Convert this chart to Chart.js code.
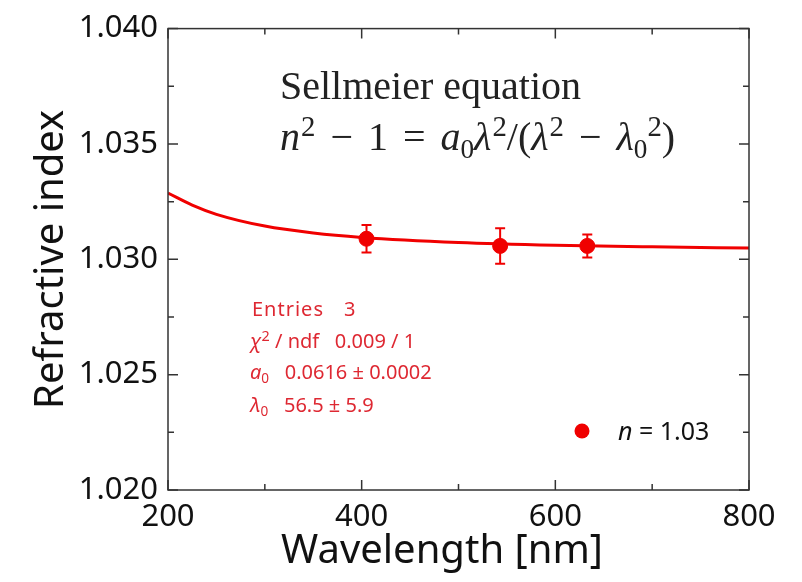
<!DOCTYPE html>
<html>
<head>
<meta charset="utf-8">
<script src="https://cdn.jsdelivr.net/npm/chart.js@4.4.1/dist/chart.umd.min.js"></script>
<style>
    body { margin: 0; background: #fff; }
    canvas { display: block; }
</style>
</head>
<body>
<canvas id="indexChart" width="802" height="582"></canvas>
<script>
const wavelengths = [405, 543, 633];
const indexValues = [1.03089, 1.03058, 1.03058];
const indexErrors = [0.0006, 0.00077, 0.0005];

const fitWavelengths = [200, 225, 250, 300, 350, 400, 500, 600, 700, 800];
const fitValues = [1.03287, 1.03235, 1.03195, 1.03144, 1.03114, 1.03095, 1.03073, 1.03061, 1.03054, 1.03049];

const xMajorTicks = [200, 400, 600, 800];
const xMinorTicks = [300, 500, 700];
const yMajorTicks = [1.020, 1.025, 1.030, 1.035, 1.040];
const yMinorTicks = [1.0225, 1.0275, 1.0325, 1.0375];

const red = 'rgb(240, 0, 0)';
const statRed = 'rgb(222, 40, 50)';
const axisColor = '#333';
const sansFont = '"Noto Sans", "Open Sans", sans-serif';
const serifFont = '"Liberation Serif", "DejaVu Serif", serif';

function drawRuns(ctx, x, y, runs, size, family, color) {
    ctx.fillStyle = color;
    ctx.textBaseline = 'alphabetic';
    ctx.textAlign = 'left';
    for (const run of runs) {
        let fontSize = size;
        let dy = 0;
        if (run.pos === 'sup') { fontSize = size * 0.72; dy = -size * 0.36; }
        if (run.pos === 'sub') { fontSize = size * 0.68; dy = size * 0.2; }
        ctx.font = (run.italic ? 'italic ' : '') + fontSize + 'px ' + family;
        ctx.fillText(run.t, x, y + dy);
        x += ctx.measureText(run.t).width + (run.gap || 0);
    }
    return x;
}

const frameAndNotes = {
    id: 'frameAndNotes',
    beforeDatasetsDraw(chart) {
        const ctx = chart.ctx;
        const xs = chart.scales.x;
        const ys = chart.scales.y;
        ctx.save();
        ctx.strokeStyle = red;
        ctx.lineWidth = 2;
        wavelengths.forEach((w, i) => {
            const px = xs.getPixelForValue(w);
            const top = ys.getPixelForValue(indexValues[i] + indexErrors[i]);
            const bottom = ys.getPixelForValue(indexValues[i] - indexErrors[i]);
            ctx.beginPath();
            ctx.moveTo(px, top);
            ctx.lineTo(px, bottom);
            ctx.moveTo(px - 5, top);
            ctx.lineTo(px + 5, top);
            ctx.moveTo(px - 5, bottom);
            ctx.lineTo(px + 5, bottom);
            ctx.stroke();
        });
        ctx.restore();
    },
    afterDraw(chart) {
        const ctx = chart.ctx;
        const area = chart.chartArea;
        const xs = chart.scales.x;
        const ys = chart.scales.y;
        ctx.save();

        // frame with inward ticks on all four sides
        ctx.strokeStyle = axisColor;
        ctx.lineWidth = 1.5;
        ctx.strokeRect(area.left, area.top, area.right - area.left, area.bottom - area.top);
        ctx.beginPath();
        const xTick = (v, len) => {
            const px = xs.getPixelForValue(v);
            ctx.moveTo(px, area.bottom);
            ctx.lineTo(px, area.bottom - len);
            ctx.moveTo(px, area.top);
            ctx.lineTo(px, area.top + len);
        };
        const yTick = (v, len) => {
            const py = ys.getPixelForValue(v);
            ctx.moveTo(area.left, py);
            ctx.lineTo(area.left + len, py);
            ctx.moveTo(area.right, py);
            ctx.lineTo(area.right - len, py);
        };
        xMajorTicks.forEach(v => xTick(v, 10));
        xMinorTicks.forEach(v => xTick(v, 6));
        yMajorTicks.forEach(v => yTick(v, 10));
        yMinorTicks.forEach(v => yTick(v, 6));
        ctx.stroke();

        // x axis title, set a little left of centre as in the original
        ctx.fillStyle = '#111';
        ctx.font = '40px ' + sansFont;
        ctx.textAlign = 'center';
        ctx.textBaseline = 'middle';
        ctx.fillText('Wavelength [nm]', 442, 552);

        // Sellmeier equation
        ctx.fillStyle = '#222';
        ctx.font = '40px ' + serifFont;
        ctx.textAlign = 'left';
        ctx.textBaseline = 'alphabetic';
        ctx.fillText('Sellmeier equation', 280, 99);
        const sp = { t: '', gap: 15 };
        drawRuns(ctx, 280, 150, [
            { t: 'n', italic: true, gap: 1 },
            { t: '2', pos: 'sup' },
            sp, { t: '\u2212' }, sp, { t: '1' }, sp, { t: '=' }, sp,
            { t: 'a', italic: true },
            { t: '0', pos: 'sub' },
            { t: '\u03bb', italic: true, gap: 1 },
            { t: '2', pos: 'sup' },
            { t: '/(' },
            { t: '\u03bb', italic: true, gap: 1 },
            { t: '2', pos: 'sup' },
            sp, { t: '\u2212' }, sp,
            { t: '\u03bb', italic: true },
            { t: '0', pos: 'sub' },
            { t: '2', pos: 'sup' },
            { t: ')' }
        ], 40, serifFont, '#222');

        // fit statistics
        const statSize = 20;
        ctx.letterSpacing = '1px';
        drawRuns(ctx, 252, 316, [{ t: 'Entries', gap: 20 }, { t: '3' }], statSize, sansFont, statRed);
        ctx.letterSpacing = '0px';
        drawRuns(ctx, 250, 348, [
            { t: '\u03c7', italic: true },
            { t: '2', pos: 'sup' },
            { t: ' / ndf   0.009 / 1' }
        ], statSize, sansFont, statRed);
        drawRuns(ctx, 250, 379, [
            { t: 'a', italic: true },
            { t: '0', pos: 'sub' },
            { t: '   0.0616 \u00b1 0.0002' }
        ], statSize, sansFont, statRed);
        drawRuns(ctx, 250, 412, [
            { t: '\u03bb', italic: true },
            { t: '0', pos: 'sub' },
            { t: '   56.5 \u00b1 5.9' }
        ], statSize, sansFont, statRed);

        // legend
        ctx.fillStyle = red;
        ctx.beginPath();
        ctx.arc(582, 431, 7.5, 0, Math.PI * 2);
        ctx.fill();
        drawRuns(ctx, 618, 440, [
            { t: 'n', italic: true },
            { t: ' = 1.03' }
        ], 25, sansFont, '#111');

        ctx.restore();
    }
};

const config = {
    type: 'scatter',
    data: {
        datasets: [
            {
                label: 'fit',
                data: fitWavelengths.map((w, i) => ({ x: w, y: fitValues[i] })),
                showLine: true,
                borderColor: red,
                borderWidth: 3,
                pointRadius: 0,
                cubicInterpolationMode: 'monotone',
                order: 2
            },
            {
                label: 'n = 1.03',
                data: wavelengths.map((w, i) => ({ x: w, y: indexValues[i] })),
                backgroundColor: red,
                borderColor: red,
                pointRadius: 7.5,
                order: 1
            }
        ]
    },
    options: {
        responsive: false,
        animation: false,
        layout: { padding: { top: 25, right: 53, left: 0, bottom: 0 } },
        plugins: {
            legend: { display: false },
            tooltip: { enabled: false }
        },
        scales: {
            x: {
                type: 'linear',
                min: 200,
                max: 800,
                grid: { display: false, drawTicks: false },
                border: { display: false },
                ticks: {
                    stepSize: 200,
                    padding: 9,
                    color: '#111',
                    font: { family: sansFont, size: 31 }
                },
                title: { display: false },
                afterFit(scale) { scale.height = 92; }
            },
            y: {
                min: 1.020,
                max: 1.040,
                grid: { display: false, drawTicks: false },
                border: { display: false },
                ticks: {
                    stepSize: 0.005,
                    padding: 10,
                    color: '#111',
                    font: { family: sansFont, size: 31 },
                    callback: v => v.toFixed(3)
                },
                title: {
                    display: true,
                    text: 'Refractive index',
                    color: '#111',
                    font: { family: sansFont, size: 40 },
                    padding: { top: 28, bottom: 0 }
                },
                afterFit(scale) { scale.width = 168; }
            }
        }
    },
    plugins: [frameAndNotes]
};

new Chart(document.getElementById('indexChart'), config);
</script>
</body>
</html>
